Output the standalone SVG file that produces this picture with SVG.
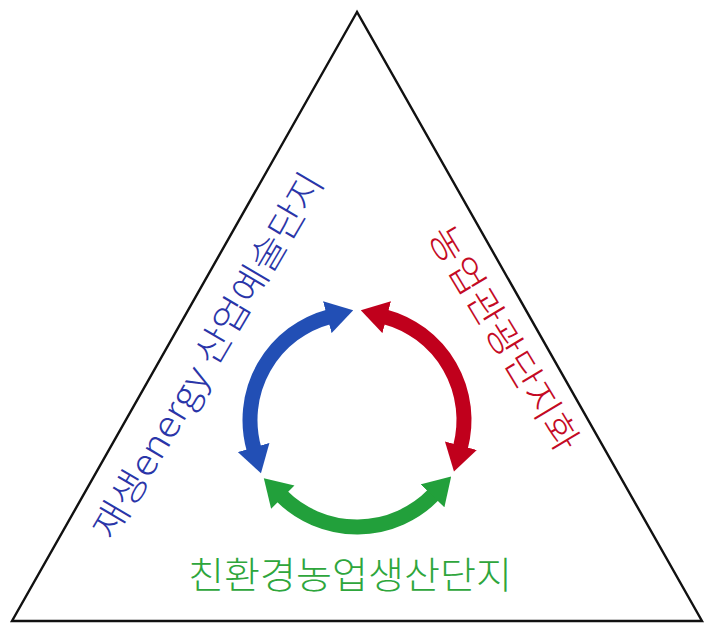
<svg xmlns="http://www.w3.org/2000/svg" width="708" height="624" viewBox="0 0 708 624">
  <style>
    .lbl { font-family: "Noto Sans CJK KR", "Noto Sans", sans-serif; font-size: 36px; font-weight: 300; }
    .arc { fill: none; stroke-width: 15; stroke-linecap: butt; }
  </style>
  <defs>
    <filter id="soft" x="-10%" y="-10%" width="120%" height="120%">
      <feGaussianBlur stdDeviation="0.7"/>
    </filter>
    <marker id="hBlue" markerUnits="userSpaceOnUse" viewBox="0 0 26 32" markerWidth="27" markerHeight="33" refX="2" refY="16" orient="auto-start-reverse">
      <path d="M0,0 L26,16 L0,32 z" fill="#2450b5"/>
    </marker>
    <marker id="hRed" markerUnits="userSpaceOnUse" viewBox="0 0 26 32" markerWidth="27" markerHeight="33" refX="2" refY="16" orient="auto-start-reverse">
      <path d="M0,0 L26,16 L0,32 z" fill="#c0061f"/>
    </marker>
    <marker id="hGreen" markerUnits="userSpaceOnUse" viewBox="0 0 26 32" markerWidth="27" markerHeight="33" refX="2" refY="16" orient="auto-start-reverse">
      <path d="M0,0 L26,16 L0,32 z" fill="#22a03a"/>
    </marker>
  </defs>
  <rect width="708" height="624" fill="#ffffff"/>
  <g id="triangle">
    <polygon points="357,12 12,621 702,621" fill="none" stroke="#111" stroke-width="2.4" stroke-linejoin="miter"/>
  </g>
  <g id="connectors" filter="url(#soft)">
    <path class="arc" stroke="#2450b5" d="M254.14,449.49 A107,107 0 0 1 329.31,316.65" marker-start="url(#hBlue)" marker-end="url(#hBlue)"/>
    <path class="arc" stroke="#c0061f" d="M384.69,316.65 A107,107 0 0 1 460.35,447.69" marker-start="url(#hRed)" marker-end="url(#hRed)"/>
    <path class="arc" stroke="#22a03a" d="M281.34,495.66 A107,107 0 0 0 433.97,494.33" marker-start="url(#hGreen)" marker-end="url(#hGreen)"/>
  </g>
  <g id="node-left">
    <text class="lbl" fill="#2a35a8" text-anchor="middle" textLength="418" lengthAdjust="spacingAndGlyphs" transform="translate(219,362) rotate(-59.5)">재생energy 산업예술단지</text>
  </g>
  <g id="node-right">
    <text class="lbl" fill="#c40a24" text-anchor="middle" textLength="256" lengthAdjust="spacingAndGlyphs" transform="translate(493,345) rotate(59)">농업관광단지화</text>
  </g>
  <g id="node-bottom">
    <text class="lbl" fill="#2ea63c" text-anchor="middle" textLength="324" lengthAdjust="spacingAndGlyphs" x="350" y="589" style="font-size:37px">친환경농업생산단지</text>
  </g>
</svg>
